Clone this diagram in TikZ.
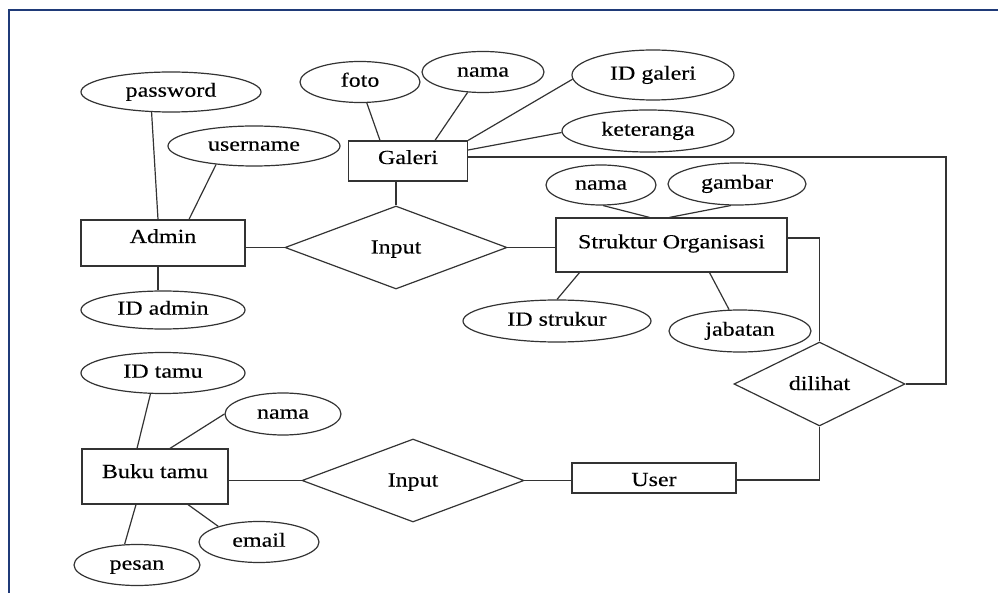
\documentclass[tikz,border=0pt]{standalone}
\usepackage{fontspec}
\setmainfont{Liberation Serif}[FakeStretch=1.2,FakeBold=0.3]
\usetikzlibrary{shapes.geometric,calc}
\definecolor{frameblue}{HTML}{1F3A78}
\definecolor{ln}{HTML}{333333}
\begin{document}
\begin{tikzpicture}[x=1pt,y=-1pt,
 every node/.style={font=\fontsize{20}{24}\selectfont, text=black, inner sep=0pt},
 ent/.style={draw=ln, line width=1.2pt, rectangle, text height=14pt},
 attr/.style={draw=ln, line width=1.2pt, ellipse, text height=14pt, text depth=4.6pt},
 rel/.style={draw=ln, line width=1.2pt, diamond, text height=14pt, text depth=2pt},
 conn/.style={draw=ln, line width=1.2pt}]
\useasboundingbox (0,0) rectangle (998,593);
\draw[frameblue, line width=2pt] (9,593) -- (9,10) -- (998,10);

% attributes
\node[attr, minimum width=180pt, minimum height=40pt] (password) at (171,92) {password};
\node[attr, minimum width=172pt, minimum height=40pt] (username) at (254,146) {username};
\node[attr, minimum width=120pt, minimum height=41pt] (foto) at (360,82) {foto};
\node[attr, minimum width=122pt, minimum height=41pt] (nama1) at (483,72) {nama};
\node[attr, minimum width=162pt, minimum height=50pt] (idgaleri) at (653,75) {ID galeri};
\node[attr, minimum width=172pt, minimum height=42pt] (keteranga) at (648,131) {keteranga};
\node[attr, minimum width=110pt, minimum height=40pt] (nama2) at (601,185) {nama};
\node[attr, minimum width=138pt, minimum height=42pt] (gambar) at (737,184) {gambar};
\node[attr, minimum width=164pt, minimum height=38pt] (idadmin) at (163,310) {ID admin};
\node[attr, minimum width=188pt, minimum height=42pt] (idstrukur) at (557,321) {ID strukur};
\node[attr, minimum width=142pt, minimum height=42pt] (jabatan) at (740,331) {jabatan};
\node[attr, minimum width=164pt, minimum height=41pt] (idtamu) at (163,373) {ID tamu};
\node[attr, minimum width=116pt, minimum height=42pt] (nama3) at (283,414) {nama};
\node[attr, minimum width=126pt, minimum height=41pt] (pesan) at (137,565) {pesan};
\node[attr, minimum width=120pt, minimum height=41pt] (email) at (259,542) {email};

% entities
\node[ent, minimum width=119pt, minimum height=40pt, text depth=8pt] (galeri) at (408,161) {Galeri};
\node[ent, minimum width=164pt, minimum height=46pt, text depth=14pt] (admin) at (163,243) {Admin};
\node[ent, minimum width=231pt, minimum height=54pt, text depth=7.4pt] (struktur) at (671.5,245) {Struktur Organisasi};
\node[ent, minimum width=146pt, minimum height=55pt, text depth=11pt] (buku) at (155,476.5) {Buku tamu};
\node[ent, minimum width=164pt, minimum height=30pt, text height=16pt, text depth=0pt] (user) at (654,478) {User};

% relations
\node[rel, minimum width=222pt, minimum height=83pt] (input1) at (396,247.5) {Input};
\node[rel, minimum width=222pt, minimum height=83pt] (input2) at (413,480.5) {Input};
\node[rel, minimum width=171pt, minimum height=84pt] (dilihat) at (819.5,384) {dilihat};

\coordinate (gcorner) at (946,157);

% connectors
\draw[conn] (password.226.5) -- ([xshift=-5pt]admin.north);
\draw[conn] (username.206) -- ([xshift=26pt]admin.north);
\draw[conn] (input1.west) -- (input1.west -| admin.east);
\draw[conn] ([xshift=-5pt]admin.south) -- ([xshift=-5pt]idadmin.north);
\draw[conn] (input1.north) -- (input1.north |- galeri.south);
\draw[conn] (foto.288) -- ([xshift=-28pt]galeri.north);
\draw[conn] (nama1.233) -- ([xshift=27pt]galeri.north);
\draw[conn] (idgaleri.183) -- (galeri.north east);
\draw[conn] (keteranga.181) -- ([yshift=11pt]galeri.east);
\draw[conn] ([yshift=4pt]galeri.east) -- (gcorner) |- (dilihat.east);
\draw[conn] (input1.east) -- (input1.east -| struktur.west);
\draw[conn] (nama2.276) -- ([xshift=-22pt]struktur.north);
\draw[conn] (gambar.254) -- ([xshift=-2pt]struktur.north);
\draw[conn] ([xshift=-92pt]struktur.south) -- (idstrukur.north);
\draw[conn] ([xshift=38pt]struktur.south) -- (jabatan.117.6);
\draw[conn] ([yshift=7pt]struktur.east) -| (dilihat.north);
\draw[conn] (dilihat.south) |- ([yshift=-2pt]user.east);
\draw[conn] (input2.east) -- (input2.east -| user.west);
\draw[conn] (input2.west) -- (input2.west -| buku.east);
\draw[conn] (idtamu.239) -- ([xshift=-18pt]buku.north);
\draw[conn] (nama3.180) -- ([xshift=15pt]buku.north);
\draw[conn] ([xshift=-19pt]buku.south) -- (pesan.121.8);
\draw[conn] ([xshift=33pt]buku.south) -- (email.159.6);
\end{tikzpicture}
\end{document}
